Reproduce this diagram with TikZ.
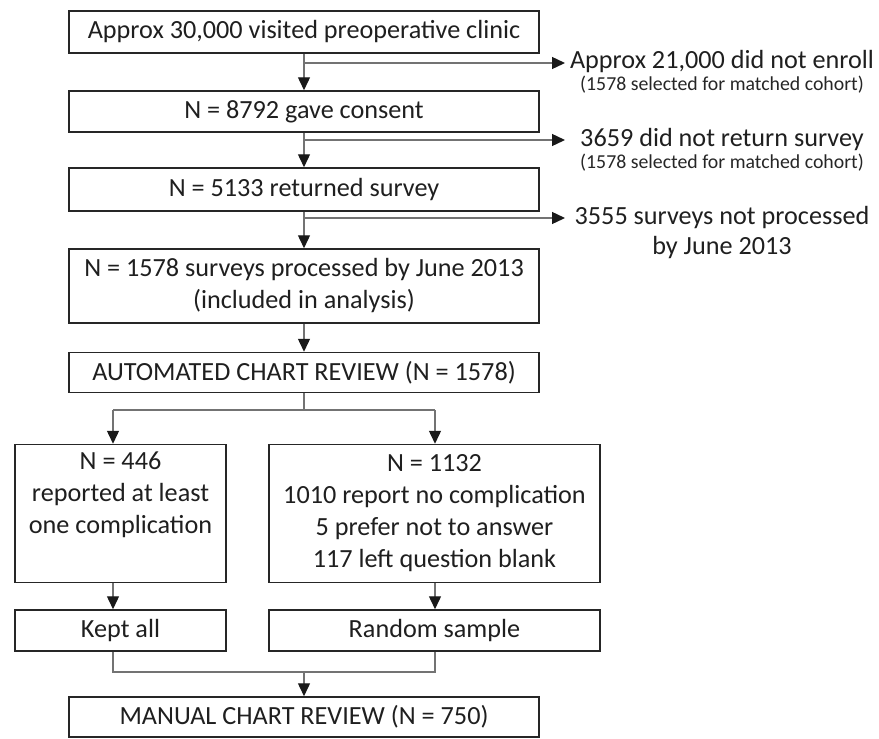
\documentclass[tikz,border=0pt]{standalone}
\usepackage{fontspec}
\setmainfont{Carlito}
\usetikzlibrary{arrows.meta}
\tikzset{
  box/.style={draw=black!85, line width=1.5pt, fill=white, align=center, inner sep=0pt,
    text=black!88, font=\fontsize{26.2}{32}\selectfont},
  conn/.style={draw=black!55, line width=1.4pt},
  arr/.style={conn, -{Triangle[width=12pt,length=13pt,color=black!90]}},
  side/.style={anchor=base, inner sep=0pt, text=black!88, font=\fontsize{26.2}{32}\selectfont},
  sub/.style={anchor=base, inner sep=0pt, text=black!85, font=\fontsize{19.8}{22}\selectfont},
}
\begin{document}
\begin{tikzpicture}[x=1pt,y=-1pt]
\useasboundingbox (0,0) rectangle (879,739);
% main column
\node[box, minimum width=470pt, minimum height=42pt] (b1) at (304,32) {Approx 30,000 visited preoperative clinic};
\node[box, minimum width=470pt, minimum height=41pt] (b2) at (304,111.5) {N = 8792 gave consent};
\node[box, minimum width=470pt, minimum height=43pt] (b3) at (304,189.5) {N = 5133 returned survey};
\node[box, minimum width=470pt, minimum height=74pt] (b4) at (304,286) {N = 1578 surveys processed by June 2013\\(included in analysis)};
\node[box, minimum width=470pt, minimum height=40pt] (b5) at (304,372.5) {AUTOMATED CHART REVIEW (N = 1578)};
\node[box, minimum width=211pt, minimum height=138pt] (bl) at (120.5,513.5) {N = 446\\reported at least\\one complication\\\strut};
\node[box, minimum width=331pt, minimum height=138pt] (br) at (434.5,513.5) {N = 1132\\1010 report no complication\\5 prefer not to answer\\117 left question blank};
\node[box, minimum width=211pt, minimum height=41pt] (kl) at (120.5,630.5) {Kept all};
\node[box, minimum width=331pt, minimum height=41pt] (kr) at (434.5,630.5) {Random sample};
\node[box, minimum width=470pt, minimum height=40pt] (b6) at (304,717) {MANUAL CHART REVIEW (N = 750)};
% side texts
\node[side] (s1) at (722,68) {Approx 21,000 did not enroll};
\node[sub] (u1) at (722,90) {(1578 selected for matched cohort)};
\node[side] (s2) at (722,146) {3659 did not return survey};
\node[sub] (u2) at (722,168) {(1578 selected for matched cohort)};
\node[side] (s3) at (722,224) {3555 surveys not processed};
\node[side] (s4) at (722,254) {by June 2013};
% junction coordinates
\coordinate (j1) at (304,63);
\coordinate (e1) at (565,63);
\coordinate (j2) at (304,140);
\coordinate (e2) at (565,140);
\coordinate (j3) at (304,218);
\coordinate (e3) at (565,218);
\coordinate (js) at (304,410);
\coordinate (jl) at (113,410);
\coordinate (jr) at (435,410);
\coordinate (ml) at (113,672);
\coordinate (mr) at (435,672);
\coordinate (mm) at (304,672);
% connectors
\draw[arr] (b1) -- (b2);
\draw[arr] (b2) -- (b3);
\draw[arr] (b3) -- (b4);
\draw[arr] (b4) -- (b5);
\draw[arr] (j1) -- (e1);
\draw[arr] (j2) -- (e2);
\draw[arr] (j3) -- (e3);
\draw[conn] (b5.south) -- (js);
\draw[conn] (jl) -- (jr);
\draw[arr] (jl) -- (jl |- bl.north);
\draw[arr] (jr) -- (jr |- br.north);
\draw[arr] (jl |- bl.south) -- (jl |- kl.north);
\draw[arr] (jr |- br.south) -- (jr |- kr.north);
\draw[conn] (jl |- kl.south) -- (ml) -- (mr) -- (jr |- kr.south);
\draw[arr] (mm) -- (b6.north);
\end{tikzpicture}
\end{document}
